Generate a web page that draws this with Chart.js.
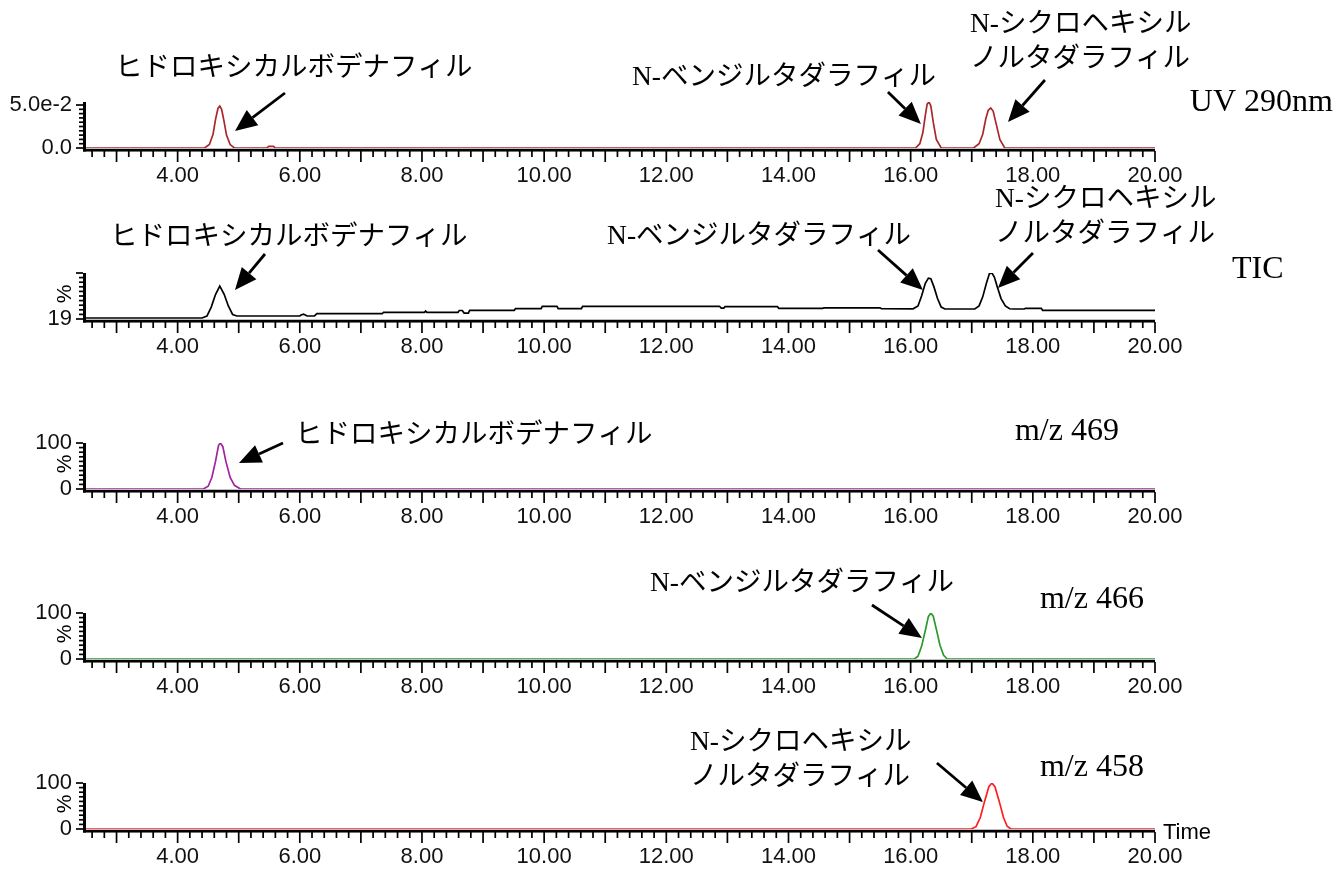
<!DOCTYPE html>
<html lang="ja">
<head>
<meta charset="utf-8">
<title>クロマトグラム</title>
<script src="https://cdn.jsdelivr.net/npm/chart.js@4.4.1/dist/chart.umd.min.js"></script>
<style>
  html, body { margin: 0; padding: 0; background: #fff; }
  #pagina { position: relative; width: 1333px; height: 869px; overflow: hidden; }
  .painel { position: absolute; left: 0; width: 1333px; height: 185px; }
</style>
</head>
<body>
<div id="pagina"></div>
<script>
const rotulosX = ["4.00", "6.00", "8.00", "10.00", "12.00", "14.00", "16.00", "18.00", "20.00"];
const valoresRotulosX = [4, 6, 8, 10, 12, 14, 16, 18, 20];

const canais = ["UV 290nm", "TIC", "m/z 469", "m/z 466", "m/z 458"];
const compostos = ["ヒドロキシカルボデナフィル", "N-ベンジルタダラフィル", ["N-シクロヘキシル", "ノルタダラフィル"]];

const yValoresUV = [0, 0.05];
const yRotulosUV = ["0.0", "5.0e-2"];
const yValoresTIC = [19];
const yRotulosTIC = ["19"];
const yValoresMZ = [0, 100];
const yRotulosMZ = ["0", "100"];

const uvPontos = [[2.5,0],[4.44,0],[4.52,0.004],[4.58,0.016],[4.62,0.033],[4.66,0.046],[4.69,0.0488],[4.72,0.045],[4.76,0.031],[4.80,0.015],[4.86,0.004],[4.93,0],
  [5.46,0],[5.49,0.002],[5.57,0.002],[5.60,0],
  [16.08,0],[16.15,0.005],[16.20,0.018],[16.24,0.038],[16.27,0.051],[16.30,0.0535],[16.33,0.049],[16.37,0.030],[16.42,0.010],[16.50,0],
  [17.03,0],[17.12,0.005],[17.18,0.016],[17.23,0.034],[17.27,0.044],[17.31,0.0465],[17.35,0.043],[17.40,0.028],[17.46,0.010],[17.54,0],[20,0]];

const ticPontos = [[2.5,20.8],[4.40,20.8],[4.48,24],[4.55,40],[4.62,62],[4.69,77],[4.76,63],[4.83,42],[4.90,27],[4.97,24.3],
  [6.00,24.3],[6.02,26],[6.06,27.5],[6.09,26],[6.12,24.3],[6.24,24.3],[6.28,28.3],[7.35,28.3],[7.37,30.8],[8.04,30.8],[8.06,33],[8.08,30.8],
  [8.59,30.8],[8.61,34],[8.66,34],[8.69,29.5],[8.76,29.5],[8.78,34.3],[9.51,34.3],[9.53,37.1],[9.95,37.1],[9.97,41.4],[10.21,41.4],[10.23,37.1],
  [10.61,37.1],[10.63,41.4],[12.87,41.4],[12.90,38],[12.94,38],[12.96,40.7],[13.82,40.7],[13.84,37.8],[14.56,37.8],[14.58,38.6],[15.5,38.6],[15.52,37.2],
  [16.04,37],[16.12,42],[16.18,60],[16.24,82],[16.29,91],[16.33,90],[16.38,76],[16.44,55],[16.50,40],[16.56,36.6],
  [17.05,36.6],[17.12,42],[17.18,58],[17.24,82],[17.29,99],[17.33,100],[17.37,93],[17.42,75],[17.48,55],[17.55,42],[17.62,37],[17.68,36.6],
  [17.86,36.6],[17.88,37.8],[18.14,37.8],[18.16,34.2],[20,34.2]];

const mz469Pontos = [[2.5,0],[4.42,0],[4.50,6],[4.56,25],[4.62,60],[4.67,95],[4.70,100],[4.74,92],[4.79,60],[4.86,25],[4.93,8],[5.03,0],[20,0]];
const mz466Pontos = [[2.5,0],[16.06,0],[16.12,6],[16.18,28],[16.24,62],[16.29,92],[16.33,100],[16.37,93],[16.42,65],[16.48,30],[16.54,8],[16.60,0],[20,0]];
const mz458Pontos = [[2.5,0],[16.99,0],[17.07,5],[17.14,25],[17.21,60],[17.28,92],[17.33,100],[17.38,92],[17.45,60],[17.52,25],[17.58,6],[17.64,0],[20,0]];

// Configuração dos painéis (texto: t = tempo da borda esquerda, dy = px acima da linha zero)
const paineis = [
  { pontos: uvPontos, cor: "#a8282c", zeroY: 148, yMin: 0, yMax: 0.0535, yTopo: 0.05,
    yValores: yValoresUV, yRotulos: yRotulosUV, porcento: false,
    textos: [
      { linhas: [compostos[0]], t: 2.975, dy: 79 },
      { linhas: [compostos[1]], t: 11.438, dy: 70 },
      { linhas: compostos[2], t: 16.97, dy: 123 },
      { linhas: [canais[0]], t: 20.57, dy: 45, canal: true }
    ],
    setas: [[5.757, 55, 4.939, 17], [15.628, 56, 16.168, 24], [18.198, 68, 17.593, 26]] },
  { pontos: ticPontos, cor: "#000000", zeroY: 319, yMin: 19, yMax: 100, yTopo: 100,
    yValores: yValoresTIC, yRotulos: yRotulosTIC, porcento: true,
    textos: [
      { linhas: [compostos[0]], t: 2.893, dy: 81 },
      { linhas: [compostos[1]], t: 11.03, dy: 82 },
      { linhas: compostos[2], t: 17.38, dy: 119 },
      { linhas: [canais[1]], t: 21.26, dy: 49, canal: true }
    ],
    setas: [[5.43, 65, 4.939, 29], [15.465, 69, 16.201, 29], [18.002, 66, 17.429, 31]] },
  { pontos: mz469Pontos, cor: "#a024a0", zeroY: 489, yMin: 0, yMax: 100, yTopo: 100,
    yValores: yValoresMZ, yRotulos: yRotulosMZ, porcento: true,
    textos: [
      { linhas: [compostos[0]], t: 5.921, dy: 53 },
      { linhas: [canais[2]], t: 17.707, dy: 57, canal: true }
    ],
    setas: [[5.725, 46, 5.004, 26]] },
  { pontos: mz466Pontos, cor: "#2a9a2a", zeroY: 659, yMin: 0, yMax: 100, yTopo: 100,
    yValores: yValoresMZ, yRotulos: yRotulosMZ, porcento: true,
    textos: [
      { linhas: [compostos[1]], t: 11.732, dy: 75 },
      { linhas: [canais[3]], t: 18.117, dy: 59, canal: true }
    ],
    setas: [[15.366, 54, 16.185, 21]] },
  { pontos: mz458Pontos, cor: "#ff1e1e", zeroY: 829, yMin: 0, yMax: 100, yTopo: 100,
    yValores: yValoresMZ, yRotulos: yRotulosMZ, porcento: true, tempo: true,
    textos: [
      { linhas: compostos[2], t: 12.387, dy: 86 },
      { linhas: [canais[4]], t: 18.117, dy: 61, canal: true }
    ],
    setas: [[16.43, 66, 17.183, 27]] }
];

const fonteEixo = '"Liberation Sans", Arial, sans-serif';
const fonteTexto = '"Liberation Serif", "Times New Roman", "Noto Sans CJK JP", serif';

function desenharSeta(ctx, x1, y1, x2, y2) {
  const ang = Math.atan2(y2 - y1, x2 - x1);
  const comp = 22, larg = 9.5;
  const bx = x2 - comp * Math.cos(ang), by = y2 - comp * Math.sin(ang);
  ctx.beginPath();
  ctx.moveTo(x1, y1);
  ctx.lineTo(bx, by);
  ctx.lineWidth = 2.8;
  ctx.stroke();
  ctx.beginPath();
  ctx.moveTo(x2, y2);
  ctx.lineTo(bx + larg * Math.sin(ang), by - larg * Math.cos(ang));
  ctx.lineTo(bx - larg * Math.sin(ang), by + larg * Math.cos(ang));
  ctx.closePath();
  ctx.fill();
}

function pluginCroma(p, idx) {
  return {
    id: "croma" + idx,
    beforeDatasetsDraw(chart) {
      const ctx = chart.ctx, a = chart.chartArea, sx = chart.scales.x, sy = chart.scales.y;
      ctx.save();
      ctx.fillStyle = "#000";
      ctx.strokeStyle = "#000";
      // eixos
      ctx.fillRect(a.left - 3, a.bottom + 0.75, a.right - a.left + 3, 2.8);
      ctx.fillRect(a.left - 3, a.top, 3, a.bottom - a.top + 3.5);
      // marcas do eixo X (0.2 min, maiores a cada 1 min)
      ctx.lineWidth = 1.7;
      for (let k = 13; k <= 100; k++) {
        const x = sx.getPixelForValue(k * 0.2);
        const len = k % 5 === 0 ? 11 : 6;
        ctx.beginPath();
        ctx.moveTo(x, a.bottom + 3);
        ctx.lineTo(x, a.bottom + 3 + len);
        ctx.stroke();
      }
      // marcas do eixo Y
      for (let k = 0; k <= 10; k++) {
        const v = p.yMin + k * (p.yTopo - p.yMin) / 10;
        const y = sy.getPixelForValue(v);
        const len = (k === 0 || k === 10) ? 7 : 4;
        ctx.beginPath();
        ctx.moveTo(a.left - 3, y);
        ctx.lineTo(a.left - 3 - len, y);
        ctx.stroke();
      }
      if (p.porcento) {
        ctx.save();
        ctx.translate(a.left - 21, (a.top + a.bottom) / 2 - 2);
        ctx.rotate(-Math.PI / 2);
        ctx.font = "21px " + fonteEixo;
        ctx.textAlign = "center";
        ctx.textBaseline = "middle";
        ctx.fillText("%", 0, 0);
        ctx.restore();
      }
      ctx.restore();
    },
    afterDraw(chart) {
      const ctx = chart.ctx, a = chart.chartArea, sx = chart.scales.x;
      ctx.save();
      ctx.fillStyle = "#000";
      ctx.strokeStyle = "#000";
      ctx.textBaseline = "middle";
      ctx.textAlign = "left";
      p.textos.forEach(tx => {
        ctx.font = (tx.canal ? "32px " : "27.5px ") + fonteTexto;
        tx.linhas.forEach((linha, i) => {
          ctx.fillText(linha, sx.getPixelForValue(tx.t), a.bottom - tx.dy + i * 35);
        });
      });
      p.setas.forEach(s => {
        desenharSeta(ctx, sx.getPixelForValue(s[0]), a.bottom - s[1], sx.getPixelForValue(s[2]), a.bottom - s[3]);
      });
      if (p.tempo) {
        ctx.font = "22px " + fonteEixo;
        ctx.fillText("Time", a.right + 8, a.bottom + 4);
      }
      ctx.restore();
    }
  };
}

function criarPainel(p, idx) {
  const div = document.createElement("div");
  div.className = "painel";
  div.style.top = (p.zeroY - 148) + "px";
  const canvas = document.createElement("canvas");
  canvas.width = 1333;
  canvas.height = 185;
  div.appendChild(canvas);
  document.getElementById("pagina").appendChild(div);

  return new Chart(canvas, {
    type: "line",
    data: {
      datasets: [{
        data: p.pontos.map(pt => ({ x: pt[0], y: pt[1] })),
        borderColor: p.cor,
        borderWidth: 1.7,
        pointRadius: 0,
        tension: 0,
        fill: false
      }]
    },
    options: {
      responsive: false,
      animation: false,
      events: [],
      layout: { padding: { top: 102, right: 178, left: 0, bottom: 0 } },
      plugins: { legend: { display: false }, tooltip: { enabled: false } },
      scales: {
        x: {
          type: "linear",
          min: 2.5,
          max: 20,
          grid: { display: false, drawTicks: false },
          border: { display: false },
          afterBuildTicks: axis => { axis.ticks = valoresRotulosX.map(v => ({ value: v })); },
          afterFit: axis => { axis.height = 37; },
          ticks: {
            autoSkip: false,
            maxRotation: 0,
            padding: 15,
            color: "#111",
            font: { family: fonteEixo, size: 22 },
            callback: (v, i) => rotulosX[i]
          }
        },
        y: {
          min: p.yMin,
          max: p.yMax,
          grid: { display: false, drawTicks: false },
          border: { display: false },
          afterBuildTicks: axis => { axis.ticks = p.yValores.map(v => ({ value: v })); },
          afterFit: axis => { axis.width = 86; },
          ticks: {
            autoSkip: false,
            padding: 14,
            color: "#111",
            font: { family: fonteEixo, size: 22 },
            callback: (v, i) => p.yRotulos[i]
          }
        }
      }
    },
    plugins: [pluginCroma(p, idx)]
  });
}

paineis.forEach((p, i) => criarPainel(p, i));
</script>
</body>
</html>
